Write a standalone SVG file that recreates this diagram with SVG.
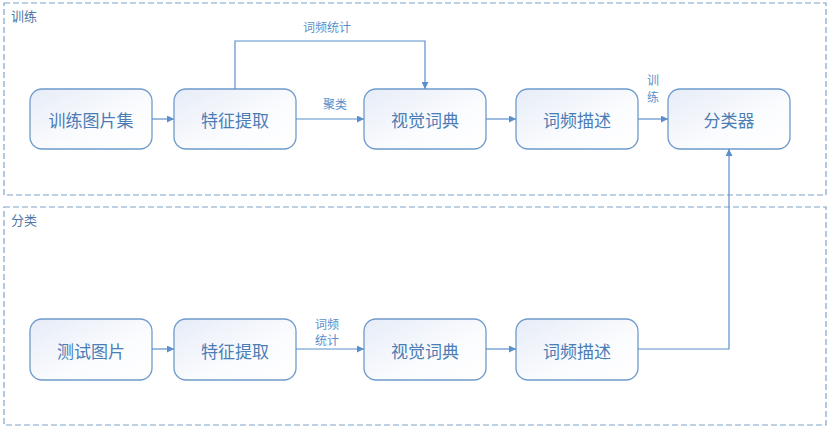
<svg xmlns="http://www.w3.org/2000/svg" width="831" height="432" viewBox="0 0 831 432">
<defs>
<linearGradient id="g" x1="0" y1="0" x2="1" y2="1">
<stop offset="0" stop-color="#e6ecf7"/>
<stop offset="0.6" stop-color="#fbfcfe"/>
<stop offset="1" stop-color="#ffffff"/>
</linearGradient>
<marker id="ar" viewBox="0 0 10 10" refX="10" refY="5" markerWidth="7" markerHeight="7" orient="auto" markerUnits="userSpaceOnUse">
<path d="M0,0 L10,5 L0,10 z" fill="#5b8fcb"/>
</marker>
<style>
.c{fill:none;stroke:#7ea3c9;stroke-width:1.2;stroke-dasharray:6 3}
.cl{font-family:"Noto Sans CJK SC",sans-serif;font-size:13px;fill:#4f78a8}
.n{fill:url(#g);stroke:#6f9bcc;stroke-width:1.3}
.t{font-family:"Noto Sans CJK SC",sans-serif;font-size:17px;fill:#4a7db5;text-anchor:middle;dominant-baseline:central}
.e{fill:none;stroke:#5b8fcb;stroke-width:1.2}
.el{font-family:"Noto Sans CJK SC",sans-serif;font-size:12px;fill:#5b8fcb;text-anchor:middle}
</style>
</defs>
<rect width="831" height="432" fill="#ffffff"/>
<g id="train">
<rect class="c" x="4" y="3" width="822" height="192"/>
<text class="cl" x="11" y="21">训练</text>
</g>
<g id="classify">
<rect class="c" x="4" y="207" width="822" height="218"/>
<text class="cl" x="11" y="225">分类</text>
</g>
<g id="n1"><rect class="n" x="30" y="89" width="122" height="60" rx="12"/><text class="t" x="91" y="119">训练图片集</text></g>
<g id="n2"><rect class="n" x="174" y="89" width="122" height="60" rx="12"/><text class="t" x="235" y="119">特征提取</text></g>
<g id="n3"><rect class="n" x="364" y="89" width="122" height="60" rx="12"/><text class="t" x="425" y="119">视觉词典</text></g>
<g id="n4"><rect class="n" x="516" y="89" width="122" height="60" rx="12"/><text class="t" x="577" y="119">词频描述</text></g>
<g id="n5"><rect class="n" x="668" y="89" width="122" height="60" rx="12"/><text class="t" x="729" y="119">分类器</text></g>
<g id="m1"><rect class="n" x="30" y="319" width="122" height="61" rx="12"/><text class="t" x="91" y="350">测试图片</text></g>
<g id="m2"><rect class="n" x="174" y="319" width="122" height="61" rx="12"/><text class="t" x="235" y="350">特征提取</text></g>
<g id="m3"><rect class="n" x="364" y="319" width="122" height="61" rx="12"/><text class="t" x="425" y="350">视觉词典</text></g>
<g id="m4"><rect class="n" x="516" y="319" width="122" height="61" rx="12"/><text class="t" x="577" y="350">词频描述</text></g>
<g id="connectors">
<path class="e" d="M152,119 L174,119" marker-end="url(#ar)"/>
<path class="e" d="M296,119 L364,119" marker-end="url(#ar)"/>
<path class="e" d="M235,89 L235,41 L425,41 L425,89" marker-end="url(#ar)"/>
<path class="e" d="M486,119 L516,119" marker-end="url(#ar)"/>
<path class="e" d="M638,119 L668,119" marker-end="url(#ar)"/>
<path class="e" d="M152,349 L174,349" marker-end="url(#ar)"/>
<path class="e" d="M296,349 L364,349" marker-end="url(#ar)"/>
<path class="e" d="M486,349 L516,349" marker-end="url(#ar)"/>
<path class="e" d="M638,349 L729,349 L729,149" stroke="#8fb8e2" marker-end="url(#ar)"/>
<text class="el" x="327" y="32">词频统计</text>
<text class="el" x="335" y="109">聚类</text>
<text class="el" x="653" y="85">训</text>
<text class="el" x="653" y="102">练</text>
<text class="el" x="327" y="329">词频</text>
<text class="el" x="327" y="345">统计</text>
</g>
</svg>
